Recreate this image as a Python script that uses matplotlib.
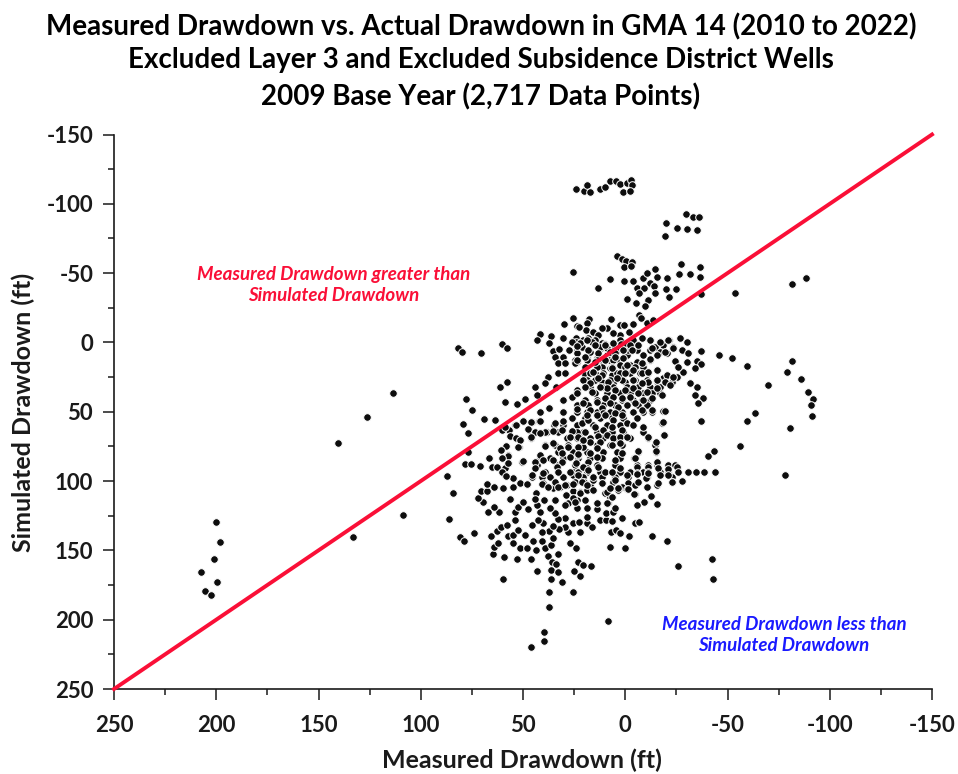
import matplotlib
matplotlib.use("Agg")
import matplotlib.pyplot as plt
from matplotlib.ticker import MultipleLocator

title_lines = ["Measured Drawdown vs. Actual Drawdown in GMA 14 (2010 to 2022)",
               "Excluded Layer 3 and Excluded Subsidence District Wells",
               "2009 Base Year (2,717 Data Points)"]

# (measured, simulated) drawdown in ft
top_group = [
    (24.3, -110.4), (20.4, -109.5), (18.6, -113.3), (17.1, -108.5), (12.5, -110.4), (10.1, -112.4),
    (7.6, -116.4), (4.7, -116.7), (2.4, -114), (1.3, -108.8), (-0.7, -114.8), (-3, -117.2),
    (-3.1, -113.8), (-2.3, -109.5), (-29.7, -92.4), (-33.3, -90.7), (-36.2, -90.7), (-20, -86.4),
    (-25.4, -82.8), (-30.2, -81.8), (-35.1, -80.9), (-19.6, -76.5),
]
upper_group = [
    (25.7, -50.6), (3.9, -62.6), (1.4, -60), (-0.2, -59), (-3.4, -57.8), (0.5, -54.6), (-2.8, -55.1),
    (7.6, -45.7), (13.2, -39.2), (0.5, -44.5), (-3.8, -44.5), (-8.8, -46.2), (-10.8, -49.8),
    (-14.7, -52.7), (-15.7, -47.4), (-12.1, -43.1), (-5.6, -39.2), (-9.1, -39), (-13.9, -40.4),
    (-6.7, -35.6), (-14.7, -35.4), (-0.8, -31.3), (-5.1, -28.7), (-11.1, -30.6), (-9.8, -26.5),
    (-20.6, -46.2), (-26.1, -49.1), (-31.5, -49.1), (-36.4, -54.2), (-36.4, -47.2), (-27.2, -56.3),
    (-20.1, -38.3), (-24.8, -38.3), (-21.2, -32.8), (-36.9, -34.7), (-53.6, -35.4),
]
near_zero = [
    (25.7, -17.8), (17.9, -16.9), (7, -16.9), (-6.9, -19.8), (-7.5, -17.4), (30, -13.5), (23.8, -11.8),
    (18.9, -13.7), (19.2, -8.9), (16, -7.7), (9.1, -10.1), (2.6, -12.5), (0.5, -12.5), (-3.8, -13.5),
    (-10.5, -13.7), (-13.7, -16.2), (41.9, -6), (43.3, -1.7), (36.5, -4.6), (37.2, 0.7), (30.6, -3.4),
    (24.3, -3.4), (20.5, -1.7), (13.2, -5.3), (2.6, -5.3), (-2, -7.7), (60.1, 1.4), (58, 3.8),
    (82, 4.3), (79.7, 6.7), (70.4, 7.9), (35.2, 6.2), (32.3, 4.7), (27.5, 5.4), (34.4, 10.2),
    (30.3, 10.2), (32.7, 15.1), (29.5, 15.1), (23.8, 13.8), (32.7, 22.3), (29.5, 21.8), (18.9, 11.4),
    (23.8, 5.4), (17.3, 6.6), (11.6, 0.6), (6.7, 1.1), (2.6, -1.8), (14, 11.4), (9.1, 9),
    (24, 0), (21, 3), (18, -3), (15, -2), (12, 4), (9, 4), (5, 3), (2, 1), (-4, -2), (-8, -3),
    (-1, 9), (4, 12), (8, 13), (11, 15),
    (22.5, -10.9), (11.6, -10.2), (5.8, -6.6), (26.2, -0.6), (22.2, 0.6), (16.4, -0.6), (12.4, 3),
    (9.9, 1.1), (-0.7, 1.9), (23.8, 7.9), (18.1, 5.5), (13.2, 7.9), (7.5, 6.7), (3.4, 5.5), (-1.5, 5.5),
    (24.6, 12.7), (18.9, 12.7), (14, 12.7), (9.9, 12.7), (5.8, 12.7), (1, 11.5), (24.6, 15.1), (19.7, 17.5),
    (11.6, 17.5), (7.5, 18.7), (2.6, 16.3), (-2.3, 16.3), (19.7, 23.5), (14, 23.5), (6.7, 23.5), (1.8, 22.3),
    (18.1, 28.3), (11.6, 28.3), (5.8, 29.5), (0.1, 28.3), (-4.7, 27.1),
]
right_side = [
    (-12.1, -1.8), (-17, 0.6), (-21.4, -1.8), (-26.8, -3), (-30.3, -0.1), (-36.9, 6.2), (-46, 9),
    (-52, 11.4), (-59.7, 16.7), (-14.5, 3), (-18.6, 1.8), (-23.5, 3), (-27.6, 5.4), (-30.8, 7.4),
    (-12.1, 5.4), (-17, 6.6), (-20.2, 7.8), (-24.3, 13.1), (-30, 13.8), (-34.9, 13.1), (-36.9, 15.8),
    (-34.1, 18.7), (-28.4, 21), (-25.9, 17.5), (-8.8, 9), (-5.6, 5.4), (-2.3, 1.8), (1, 5.4), (5, 7.8),
    (-5.6, 13.8), (-8.8, 16.3), (-12.1, 12.6), (-15.3, 19.9), (-20.2, 23.5), (-25.1, 24.7),
    (-22.7, 28.3), (-18.6, 25.9), (-15.3, 28.3), (-31.6, 29), (-34.9, 31.9), (-34.1, 37.9),
    (-38.2, 40.1), (-35.7, 43.9), (-36.9, 56.9), (-59.7, 56.9), (-18.6, 49.4), (-18.1, 57.9),
    (-18.9, 66.8), (-56.1, 74.7), (-43.5, 78.3), (-40.6, 81.9),
]
far_right = [
    (-69.8, 30.7), (-79.1, 21.4), (-81.5, 13.4), (-86, 26.4), (-89.4, 35.8), (-92, 41), (-90.8, 45),
    (-91.4, 53), (-80.7, 61.8), (-78, 95.7), (-63.4, 51), (-81.5, -42), (-88.4, -46.5),
]
dense_block = [
    (14, 17.5), (6.7, 17.5), (0.1, 17.5), (-4.7, 17.5), (-8.8, 17.5),
    (17.3, 22.3), (10.7, 22.3), (4.2, 22.3), (-2.3, 22.3), (-7.2, 22.3), (-11.3, 22.3),
    (18.9, 27.1), (14.8, 27.1), (7.5, 27.1), (1.8, 27.1), (-3.9, 27.1), (-10.5, 27.1), (-15.3, 27.1),
    (17.3, 31.9), (11.6, 31.9), (5.9, 31.9), (-0.7, 31.9), (-6.4, 31.9), (-12.1, 31.9), (-17, 31.9),
    (14.8, 36.7), (9.1, 36.7), (2.6, 36.7), (-2.3, 36.7), (-8.8, 36.7), (-12.9, 36.7), (-17, 36.7),
    (19.7, 41.5), (14, 41.5), (7.5, 41.5), (1.8, 41.5), (-3.9, 41.5), (-8, 41.5), (-12.1, 41.5),
    (23.8, 45.1), (18.1, 45.1), (10.7, 45.1), (5, 45.1), (-0.7, 45.1), (-6.4, 45.1), (-10.5, 45.1),
    (30.3, 49.9), (23.8, 49.9), (18.9, 49.9), (14, 49.9), (7.5, 49.9), (1.8, 49.9), (-3.9, 49.9),
    (-8.8, 49.9), (-12.9, 49.9),
    (26.2, 54.7), (19.7, 54.7), (12.4, 54.7), (6.7, 54.7), (1, 54.7), (-5.6, 54.7),
    (34.7, 59.5), (30.3, 59.5), (23.8, 59.5), (15.6, 59.5), (9.1, 59.5), (2.6, 59.5), (-3.9, 59.5),
    (38.4, 64.4), (32.7, 64.4), (26.2, 64.4), (20.5, 64.4), (14, 64.4), (6.7, 64.4), (1, 64.4), (-8.8, 64.4),
    (28.7, 69.2), (23.8, 69.2), (17.3, 69.2), (10.7, 69.2), (4.2, 69.2), (-2.3, 69.2), (-11.3, 69.2),
    (39.3, 74), (34.4, 74), (27.9, 74), (21.3, 74), (14, 74), (7.5, 74), (1.8, 74), (-14.7, 74),
    (32.7, 78.8), (25.4, 78.8), (18.9, 78.8), (10.7, 78.8), (4.2, 78.8), (-6.4, 78.8), (-14.9, 78.8),
    (41.7, 83.6), (36.8, 83.6), (30.3, 83.6), (23, 83.6), (17.3, 83.6), (11.6, 83.6), (2.6, 83.6), (-4.3, 83.6),
    (43.3, 88.4), (33.6, 88.4), (24.6, 88.4), (14, 88.4), (5, 88.4), (-5.6, 88.4), (-11.3, 88.4),
    (-15.3, 88.4), (-21, 88.4), (-24.3, 88.4),
    (39.3, 93.2), (32.7, 93.2), (25.4, 93.2), (18.9, 93.2), (12.4, 93.2), (2.6, 93.2), (-2.3, 93.2),
    (-8.8, 93.2), (-17, 93.2), (-21, 93.2), (-30.8, 93.2), (-34.4, 93.2), (-38.5, 93.2), (-43.9, 93.2),
    (45.8, 96.8), (40.9, 96.8), (36.8, 96.8), (30.3, 96.8), (20.5, 96.8), (11.6, 96.8), (5, 96.8),
    (-1.5, 96.8), (-10.5, 96.8), (-22.7, 96.8),
]
core_upper = [
    (23.7, 2.6), (18.9, -1.7), (14.8, 1.9), (9.9, 1.9), (5.8, 0.7), (19.7, 10.3), (23.7, 12.7), (14.8, 13.9),
    (9.9, 12.7), (5, 10.3), (0.9, 5.5), (-3.2, 5.5), (-6.4, 1.9), (-12.1, -1.7), (-12.9, 3.8), (-17, -0.5),
    (-21.1, -1.7), (-19.5, 6.7), (-23.5, 4.3), (-15.4, 9.1), (-12.1, 12), (-8, 15.1), (-4, 20), (-0.9, 16.3),
    (2.5, 22.4), (6.6, 18.7), (11.5, 23.6), (15.6, 21.2), (20.5, 27.2), (17.2, 29.6), (13.1, 26), (8.3, 28.4),
    (4.2, 26), (0.1, 22.4), (-4, 27.2), (-8, 22.4), (-11.3, 21.6), (-15.7, 20), (-20.3, 23.6), (-23.5, 24.8),
    (-19.5, 28.4), (-15.4, 27.2), (-11.3, 28.4), (-8, 29.6), (-4, 33.2), (0.1, 34.4), (5, 34.4), (9.1, 33.2),
    (12.3, 32), (16.4, 35.6), (19.7, 32), (23.7, 34.4), (26.2, 39.2), (20.5, 44), (14, 42.8), (9.9, 40.4),
    (5.8, 39.2), (1.7, 40.4), (-2.3, 39.2), (-6.4, 36.8), (-10.5, 35.6), (-15.4, 33.2), (-21.9, 30.8),
    (-17.8, 38), (-12.9, 40.4), (-8.9, 41.6), (-4.8, 44), (-0.7, 45.2), (3.4, 46.4), (7.4, 44), (11.5, 47.6),
    (17.2, 48.8), (23.7, 48.1), (-12.9, 48.8), (-8, 48.8), (-19.5, 49.5), (5, 51.2), (10.7, 51.2),
]
core_lower = [
    (21.3, 58), (18, 56), (14, 52.4), (9.9, 52.4), (5.8, 56), (1.7, 52.4), (-0.7, 58.4), (-4, 59.6), (1.7, 63.2),
    (6.6, 60.8), (10.7, 63.2), (14.8, 60.8), (19.7, 64.4), (23.7, 64.4), (13.1, 67.6), (9.1, 66.8), (5.8, 69.2),
    (2.6, 68), (-0.7, 68), (17.2, 71.6), (12.3, 71.6), (20.5, 75.7), (14, 76.5), (6.6, 74), (2.6, 72.9),
    (22.9, 81.3), (14, 83), (5, 84.9), (1.7, 80), (-6.4, 78.1), (-4.8, 83.7), (-15.1, 72.1), (-15.1, 78.1),
    (-11.3, 68.5), (-8.5, 61.3), (-18.3, 57.7), (-19, 66.8), (-15.4, 86.1), (24.2, 87.3), (18, 86.1), (18.9, 90.9),
    (22.9, 93.3), (13.1, 89.7), (9.9, 93.3), (6.6, 93.3), (2.6, 90.9), (-2.3, 93.3), (-5.6, 89.7), (-5.6, 94.5),
    (-11.3, 89.7), (-11.3, 93.3), (-16.2, 90.9), (-21.1, 91.6), (-25.2, 89.7), (15.6, 96.9), (20.5, 96.9),
    (25.4, 95.7), (11.5, 101.2), (5.8, 100.5), (25.4, 102.2), (17.2, 102.9), (-1.5, 101.2), (-4.8, 102.9),
    (-10.2, 98.1), (-15.7, 102.9), (-22.7, 100.5), (1.7, 104.1),
    (35.2, 104.8), (31.9, 104.1), (25.4, 107.2), (22.1, 108.2), (9.9, 108.9), (7.5, 111.3), (3.4, 106.5),
    (-1, 105.8), (-4.8, 109.4), (27.8, 116.1), (23.8, 113.7), (19.7, 113.7), (8.3, 116.1), (14, 120.2),
]
core_left = [
    (49.8, 56.7), (45.7, 57.2), (42, 56.7), (34.3, 57.9), (30.6, 56.7), (53.9, 59.6), (57.1, 63.2), (47.3, 63.2),
    (44.1, 64.4), (39.2, 64.4), (35.1, 63.7), (31, 63.2), (26.2, 63.7), (18.8, 52.4), (27, 68), (22.9, 68),
    (20.5, 70.4), (46, 69.2), (51.4, 70.4), (52.2, 75.3), (39.2, 74.8), (35.1, 72.9), (31.9, 76.5), (27.8, 75.3),
    (22.9, 75.3), (57.1, 81.3), (57.1, 87.3), (50.6, 86.1), (41.6, 81.3), (44.1, 86.1), (40, 84.9), (35.1, 84.9),
    (31, 80), (27, 82.5), (31, 86.1), (22.9, 80.5), (17.2, 80), (20.5, 89.7), (44.1, 90.9), (58.8, 90.9),
    (58.8, 95.7), (45.7, 95.7), (40, 94.5), (33.5, 89.7), (32.7, 93.3), (27, 93.3), (22.9, 95.7), (18, 92.1),
    (54.7, 98.1), (51.4, 101.7), (48.2, 102.2), (40, 101.7), (37.6, 104.1), (34.3, 100.5), (28.6, 102.9),
    (24.5, 100.5), (20.4, 100.5), (15.6, 99.3),
]
left_of_line = [
    (37.6, 24.7), (39.3, 29.5), (44.2, 31.9), (58, 28.3), (61.3, 31.9), (33.9, 31.9), (43.3, 37.9),
    (49, 40.8), (52.8, 44.4), (58.8, 42.7), (77.9, 40.8), (74.8, 48.7), (41.7, 49.9), (37.2, 47.5),
    (30.3, 41.5), (23.8, 36.7), (69.1, 55.2), (63.7, 55.9), (79.5, 58.8), (77.1, 65.1), (49.9, 56.4),
    (46.1, 57.1), (41.7, 56.4), (53.4, 59.5), (56.7, 63.2), (60.5, 63.2), (58.8, 60.7), (47.4, 62.4),
    (44.2, 64.4), (41.7, 65.6), (56.4, 67.5), (53.4, 69.2), (46.1, 68.4), (51.5, 70.4), (52.3, 75.2),
    (58.3, 74.5), (60.8, 77.6), (77.1, 79.3), (57.5, 81.9), (66.6, 83.6), (60.5, 83.6), (78.4, 87.9),
    (75.6, 87.9), (71, 88.9), (65.3, 89.6), (62.9, 89.6), (57.2, 86.7), (49.9, 85.5), (60.5, 93.2),
    (58.3, 96.1), (87, 96.1),
]
lower_block = [
    (84.1, 108.8), (86, 127.4), (80.8, 140.1), (78.7, 143.2), (73.8, 137.7), (60, 170.9), (43.3, 164.6),
    (46.1, 156.5), (52.8, 156.5), (59.3, 155), (64.9, 152.8), (64.2, 147.3), (62.1, 144.4), (65.8, 139.6),
    (62.9, 136), (60.8, 133.4), (58, 131.7), (53.9, 128.1), (57.2, 139.4), (54.8, 138.9), (52.3, 135.3),
    (49, 138.9), (54.8, 144.9), (51.5, 148.5), (47.9, 148.5), (45, 143), (40.9, 143.2), (43.7, 149.7),
    (39.3, 148.5), (36.5, 146.1), (35.2, 141.3), (37.6, 154), (36, 158.1), (34.1, 160.1), (32.7, 152.8),
    (36.5, 164.2), (32.7, 165.4), (36.5, 170.9), (31.1, 172.6), (37.1, 179.8), (25.7, 179.8), (37.1, 191.1),
    (39.6, 209.1), (39.6, 215.4), (46.1, 219.9), (8.3, 200.9), (22.2, 168.2), (25.1, 164.6), (23, 158.1),
    (20.8, 160.5), (16.6, 161), (23.9, 148.5), (27, 144.9), (7.5, 147.6), (0.3, 148.5), (-20.6, 143.2),
    (-12.9, 139.6), (-2, 139.6), (7.2, 137), (4.5, 135.3), (2.6, 137.2), (-4.7, 130.5), (-6.9, 129.3),
    (-25.9, 161), (-42.4, 156.5), (-43.1, 170.9), (22.2, 137), (28.2, 137), (29.5, 133.4), (32.3, 134.6),
    (37.1, 135.8), (40.9, 137), (35.2, 132.4), (40.1, 130.5), (45.8, 131.7), (42.5, 128.1), (25.7, 130),
    (22.5, 129.3), (18.9, 130.5), (16.1, 133.4), (29.5, 126.4), (32.7, 127.4), (12.4, 128.1), (9.6, 128.1),
    (6.7, 128.8), (1.6, 126.4), (9.4, 123.3), (6.2, 122.1), (18.6, 125.7), (18.9, 119.7), (23.8, 119.7),
    (29.5, 117.3), (34.4, 123.3), (36.8, 119.7), (41.7, 122.1), (47.4, 120.4), (43.3, 117.3), (53.9, 122.1),
    (52.3, 118.5), (50.2, 115.3), (56.4, 113.2), (61.8, 122.1), (67.3, 122.1), (64.2, 118.9), (69.4, 115.3),
    (72.2, 112), (70.7, 106.9), (67.5, 106.9), (67.5, 102.1), (64.2, 104), (60, 105.2), (54.8, 104.5),
    (51.5, 101.6), (47.9, 102.3), (43.7, 108.4), (44.2, 113.2), (39.6, 113.6), (34.4, 113.6), (29, 110),
    (25.4, 112.4), (22.2, 108.8), (18.9, 106.4), (15.6, 106.4), (40.9, 102.1), (37.6, 104), (32.7, 104),
    (29.5, 102.8), (25.4, 102.3), (21.3, 100.4), (18.9, 102.8), (15.6, 96.8), (11.6, 101.6), (9.1, 107.6),
    (6.7, 111.2), (3.4, 105.2), (-1.5, 106), (-6.4, 100.4), (-10.5, 104), (-16.2, 101.6), (-22.7, 100.4),
    (-27.9, 99.7), (-4.4, 109.3), (-9.1, 114.8), (-12.7, 110.5), (-5.6, 117.3), (-15.3, 116.5), (9.1, 116),
    (5, 119.7), (14, 116), (24.6, 114.8), (7.5, 105.2), (5, 99.2), (-0.7, 95.6), (-5.6, 94.9), (-11.3, 93.9),
    (-17, 95.6), (-21, 95.6), (-25.9, 93.2),
]
far_left = [
    (200.1, 129.6), (198.2, 144), (201, 156.3), (199.6, 172.9), (207.5, 165.7), (205.5, 179.4), (202.6, 182.3),
    (133.1, 140.4), (140.5, 72.6), (126.3, 53.8), (113.6, 36.5), (108.7, 124.5),
]

groups = [top_group, upper_group, near_zero, right_side, far_right, dense_block, core_upper, core_lower,
          core_left, left_of_line, lower_block, far_left]
points = [p for g in groups for p in g]
measured = [p[0] for p in points]
simulated = [p[1] for p in points]

axis_min = -150
axis_max = 250
one_to_one = [axis_max, axis_min]

plt.rcParams["font.family"] = ["Lato", "DejaVu Sans"]
plt.rcParams["font.weight"] = "bold"
plt.rcParams["axes.unicode_minus"] = False

fig = plt.figure(figsize=(9.58, 7.74), dpi=100)
ax = fig.add_axes([114 / 958, 1 - 689 / 774, (932 - 114) / 958, (689 - 134.5) / 774])

ax.scatter(measured, simulated, s=30, color="#0d0d0d", edgecolors="white", linewidths=0.7, zorder=3)
ax.plot(one_to_one, one_to_one, color="#fa0f37", linewidth=2.8, zorder=4, clip_on=False)

ax.set_xlim(axis_max, axis_min)
ax.set_ylim(axis_max, axis_min)
ax.xaxis.set_major_locator(MultipleLocator(50))
ax.xaxis.set_minor_locator(MultipleLocator(25))
ax.yaxis.set_major_locator(MultipleLocator(50))
ax.yaxis.set_minor_locator(MultipleLocator(25))

for spine in ("top", "right"):
    ax.spines[spine].set_visible(False)
for spine in ("bottom", "left"):
    ax.spines[spine].set_color("#1a1a1a")
    ax.spines[spine].set_linewidth(1.2)

ax.tick_params(which="major", length=8, width=1.1, color="#1a1a1a", labelsize=16, labelcolor="#1a1a1a")
ax.tick_params(which="minor", length=4, width=1.1, color="#1a1a1a")
ax.tick_params(axis="x", which="major", pad=11)
ax.tick_params(axis="y", which="major", pad=7)

ax.set_xlabel("Measured Drawdown (ft)", fontsize=18, fontweight="bold", color="#1a1a1a")
ax.set_ylabel("Simulated Drawdown (ft)", fontsize=18, fontweight="bold", color="#1a1a1a")
ax.xaxis.set_label_coords(0.4988, -0.108)
ax.yaxis.set_label_coords(-0.0966, 0.498)

for line, y_pos in zip(title_lines, [27, 60, 97]):
    fig.text(481 / 958, 1 - y_pos / 774, line, ha="center", va="center", fontsize=20, fontweight="bold", color="black")

fig.text(334 / 958, 1 - 285 / 774, "Measured Drawdown greater than\nSimulated Drawdown", ha="center", va="center",
         fontsize=13.5, style="italic", fontweight="bold", color="#fa0f37", linespacing=1.35)
fig.text(784 / 958, 1 - 635 / 774, "Measured Drawdown less than\nSimulated Drawdown", ha="center", va="center",
         fontsize=13.5, style="italic", fontweight="bold", color="#1a1aff", linespacing=1.35)

fig.savefig("out.png", dpi=100)
plt.close(fig)
